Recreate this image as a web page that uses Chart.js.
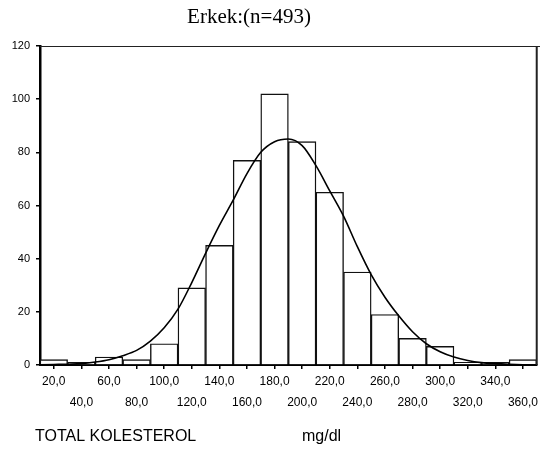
<!DOCTYPE html>
<html>
<head>
<meta charset="utf-8">
<script src="https://cdn.jsdelivr.net/npm/chart.js@4.4.1/dist/chart.umd.min.js"></script>
<style>
  html, body { margin: 0; padding: 0; background: #fff; }
  #wrap { width: 540px; height: 452px; }
</style>
</head>
<body>
<div id="wrap"><canvas id="histChart" width="540" height="452"></canvas></div>
<script>
// Histogram bins (bin centres, mg/dl) and counts
var binCentres = [20, 40, 60, 80, 100, 120, 140, 160, 180, 200, 220, 240, 260, 280, 300, 320, 340, 360];
var binCounts  = [2, 1, 3, 2, 8, 29, 45, 77, 102, 84, 65, 35, 19, 10, 7, 1, 1, 2];
var binLabels  = ['20,0', '40,0', '60,0', '80,0', '100,0', '120,0', '140,0', '160,0', '180,0',
                  '200,0', '220,0', '240,0', '260,0', '280,0', '300,0', '320,0', '340,0', '360,0'];

// Normal curve overlay
var curveX = [10, 20, 30, 40, 50, 60, 70, 80, 90, 100, 110, 120, 130, 140, 150, 160, 170, 180, 190,
              200, 210, 220, 230, 240, 250, 260, 270, 280, 290, 300, 310, 320, 330, 340, 350, 360, 370];
var curveY = [0.1, 0.2, 0.3, 0.5, 1.1, 2, 3.5, 5.5, 9, 14, 21, 31, 42, 52.5, 62, 72, 80, 84, 85,
              82.5, 75, 65.5, 56, 44.5, 34, 25.5, 18.5, 12.5, 8, 5, 3, 1.7, 0.9, 0.5, 0.25, 0.1, 0.05];

var yTicks = [0, 20, 40, 60, 80, 100, 120];

var titleText = 'Erkek:(n=493)';
var xTitleText = 'TOTAL KOLESTEROL';
var unitText = 'mg/dl';

// labels alternate between the upper and lower row
var xLabels = binLabels.map(function(t, i) { return i % 2 === 0 ? [t] : ['', t]; });

var curvePoints = curveX.map(function(x, i) { return { x: x, y: curveY[i] }; });

// frame and free texts
var extrasPlugin = {
    id: 'extras',
    afterDraw: function(chart) {
        var ctx = chart.ctx;
        var a = chart.chartArea;
        ctx.save();
        ctx.strokeStyle = '#222';
        ctx.lineWidth = 1.2;
        ctx.beginPath();
        ctx.moveTo(a.left, a.top + 0.5);
        ctx.lineTo(540, a.top + 0.5);
        ctx.stroke();
        ctx.lineWidth = 2;
        ctx.beginPath();
        ctx.moveTo(a.right, a.top);
        ctx.lineTo(a.right, a.bottom);
        ctx.stroke();

        ctx.fillStyle = '#000';
        ctx.textBaseline = 'middle';
        ctx.font = '21px "Liberation Serif", "Times New Roman", serif';
        ctx.textAlign = 'center';
        ctx.fillText(titleText, 249, 17);

        ctx.font = '16px "Liberation Sans", Arial, sans-serif';
        ctx.textAlign = 'left';
        ctx.fillText(xTitleText, 35, 437);
        ctx.fillText(unitText, 302, 437);
        ctx.restore();
    }
};

new Chart(document.getElementById('histChart'), {
    data: {
        labels: xLabels,
        datasets: [{
            type: 'line',
            data: curvePoints,
            xAxisID: 'xc',
            yAxisID: 'y',
            borderColor: '#000',
            borderWidth: 1.6,
            pointRadius: 0,
            cubicInterpolationMode: 'monotone',
            fill: false,
            order: 0
        }, {
            type: 'bar',
            data: binCounts,
            xAxisID: 'x',
            yAxisID: 'y',
            backgroundColor: '#fff',
            borderColor: '#111',
            borderWidth: 1.4,
            grouped: false,
            barPercentage: 1,
            categoryPercentage: 1,
            order: 1
        }]
    },
    options: {
        responsive: false,
        animation: false,
        events: [],
        layout: { padding: { top: 46, right: 2, left: 0, bottom: 0 } },
        plugins: {
            legend: { display: false },
            tooltip: { enabled: false },
            title: { display: false }
        },
        scales: {
            x: {
                type: 'category',
                offset: true,
                afterFit: function(s) { s.height = 87; },
                grid: { display: true, drawOnChartArea: false, offset: false, tickLength: 4, color: '#000', lineWidth: 1.5 },
                border: { display: true, color: '#000', width: 2 },
                ticks: {
                    color: '#000',
                    padding: 2,
                    maxRotation: 0,
                    autoSkip: false,
                    font: { family: '"Liberation Sans", Arial, sans-serif', size: 12, lineHeight: 1.75 }
                }
            },
            xc: {
                type: 'linear',
                display: false,
                min: 10,
                max: 370
            },
            y: {
                min: 0,
                max: 120,
                afterFit: function(s) { s.width = 40; },
                afterBuildTicks: function(s) { s.ticks = yTicks.map(function(v) { return { value: v }; }); },
                grid: { display: true, drawOnChartArea: false, tickLength: 4, color: '#000', lineWidth: 1.5 },
                border: { display: true, color: '#000', width: 2.5 },
                ticks: {
                    color: '#000',
                    padding: 6,
                    font: { family: '"Liberation Sans", Arial, sans-serif', size: 11 }
                }
            }
        }
    },
    plugins: [extrasPlugin]
});
</script>
</body>
</html>
